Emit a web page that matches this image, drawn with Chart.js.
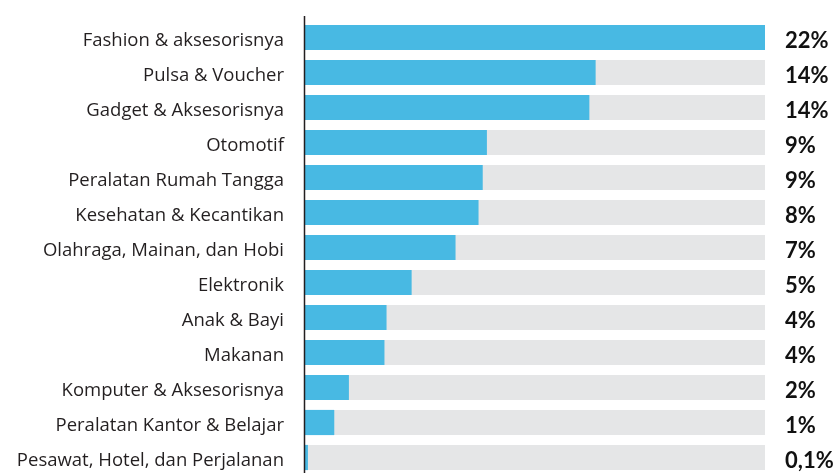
<!DOCTYPE html>
<html>
<head>
<meta charset="utf-8">
<style>
  html, body { margin: 0; padding: 0; background: #fff; overflow: hidden; }
  #wrap { position: relative; width: 835px; height: 476px; }
</style>
<script src="https://cdn.jsdelivr.net/npm/chart.js@4"></script>
</head>
<body>
<div id="wrap"><canvas id="chart"></canvas></div>
<script>
// categories, top to bottom
const categories = [
    'Fashion & aksesorisnya',
    'Pulsa & Voucher',
    'Gadget & Aksesorisnya',
    'Otomotif',
    'Peralatan Rumah Tangga',
    'Kesehatan & Kecantikan',
    'Olahraga, Mainan, dan Hobi',
    'Elektronik',
    'Anak & Bayi',
    'Makanan',
    'Komputer & Aksesorisnya',
    'Peralatan Kantor & Belajar',
    'Pesawat, Hotel, dan Perjalanan'
];
// bar lengths (percent)
const shares = [22, 13.9, 13.6, 8.7, 8.5, 8.3, 7.2, 5.1, 3.9, 3.8, 2.1, 1.4, 0.14];
// printed labels at the right
const shareLabels = ['22%', '14%', '14%', '9%', '9%', '8%', '7%', '5%', '4%', '4%', '2%', '1%', '0,1%'];
const axisMax = 22;
const trackValues = categories.map(function() { return axisMax; });

// vertical axis line + right-hand value labels
const extras = {
    id: 'extras',
    afterDatasetsDraw: function(chart) {
        const ctx = chart.ctx;
        const area = chart.chartArea;
        const yScale = chart.scales.y;
        ctx.save();
        ctx.strokeStyle = '#231f20';
        ctx.lineWidth = 1.5;
        ctx.beginPath();
        ctx.moveTo(area.left - 0.5, area.top - 4);
        ctx.lineTo(area.left - 0.5, chart.height);
        ctx.stroke();

        ctx.fillStyle = '#111';
        ctx.font = 'bold 22px Lato';
        ctx.textAlign = 'left';
        ctx.textBaseline = 'middle';
        shareLabels.forEach(function(txt, i) {
            ctx.fillText(txt, area.right + 20, yScale.getPixelForValue(i) + 3);
        });
        ctx.restore();
    }
};

new Chart(document.getElementById('chart'), {
    type: 'bar',
    data: {
        labels: categories,
        datasets: [{
            data: shares,
            backgroundColor: '#48b9e3',
            order: 0,
            grouped: false,
            categoryPercentage: 1,
            barPercentage: 0.72
        }, {
            data: trackValues,
            backgroundColor: '#e5e6e7',
            order: 1,
            grouped: false,
            categoryPercentage: 1,
            barPercentage: 0.72
        }]
    },
    options: {
        indexAxis: 'y',
        responsive: true,
        maintainAspectRatio: false,
        animation: false,
        layout: { padding: { top: 20, right: 70, bottom: 1, left: 0 } },
        plugins: {
            legend: { display: false },
            tooltip: { enabled: false }
        },
        scales: {
            x: {
                display: false,
                min: 0,
                max: axisMax
            },
            y: {
                grid: { display: false, drawTicks: false },
                border: { display: false },
                ticks: {
                    padding: 21,
                    labelOffset: 3,
                    color: '#231f20',
                    font: { family: 'Open Sans', size: 18.5 }
                },
                afterFit: function(scale) {
                    scale.width = 305;
                    scale.paddingTop = 0;
                    scale.paddingBottom = 0;
                }
            }
        }
    },
    plugins: [extras]
});
</script>
</body>
</html>
